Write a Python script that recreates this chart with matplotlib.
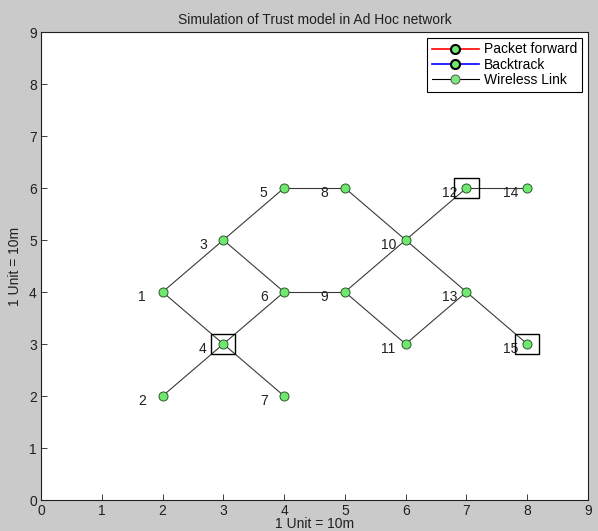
import matplotlib
matplotlib.use("Agg")
import matplotlib.pyplot as plt
from matplotlib.lines import Line2D
from matplotlib.patches import Rectangle

plt.rcParams['font.family'] = ['Liberation Sans', 'DejaVu Sans']

# Node positions (1 unit = 10 m)
node_ids = [1, 2, 3, 4, 5, 6, 7, 8, 9, 10, 11, 12, 13, 14, 15]
node_x = [2, 2, 3, 3, 4, 4, 4, 5, 5, 6, 6, 7, 7, 8, 8]
node_y = [4, 2, 5, 3, 6, 4, 2, 6, 4, 5, 3, 6, 4, 6, 3]

# Wireless links between nodes
links = [(1, 3), (1, 4), (2, 4), (4, 7), (4, 6), (3, 5), (3, 6), (5, 8),
         (6, 9), (8, 10), (9, 10), (9, 11), (10, 12), (10, 13), (11, 13),
         (12, 14), (13, 15)]

# Nodes highlighted with a box
marked_nodes = [4, 12, 15]

legend_labels = ['Packet forward', 'Backtrack', 'Wireless Link']

fig = plt.figure(figsize=(5.98, 5.31), dpi=100, facecolor='#cacaca')
ax = fig.add_axes([41/598, 31/531, 547/598, 468/531])
ax.set_facecolor('white')

pos = {n: (x, y) for n, x, y in zip(node_ids, node_x, node_y)}

node_face = '#6fe86f'
node_edge = '#2a5a2a'
text_col = '#202020'

for a, b in links:
    xa, ya = pos[a]
    xb, yb = pos[b]
    ax.plot([xa, xb], [ya, yb], color='#3a3a3a', lw=0.8, zorder=1)

ax.plot(node_x, node_y, linestyle='none', marker='o', markersize=6.5,
        markerfacecolor=node_face, markeredgecolor=node_edge,
        markeredgewidth=0.7, zorder=3)

for n, x, y in zip(node_ids, node_x, node_y):
    ax.text(x - 0.4, y - 0.1, str(n), fontsize=10, ha='left', va='center',
            color=text_col, zorder=4)

for n in marked_nodes:
    x, y = pos[n]
    ax.add_patch(Rectangle((x - 0.2, y - 0.2), 0.4, 0.4, fill=False,
                           edgecolor='black', lw=1.0, zorder=2))

ax.set_xlim(0, 9)
ax.set_ylim(0, 9)
ax.set_xticks(range(10))
ax.set_yticks(range(10))
ax.tick_params(direction='in', length=4, width=0.6, labelsize=10,
               top=False, right=False, colors=text_col, pad=3)
for s in ax.spines.values():
    s.set_linewidth(0.8)
    s.set_color(text_col)

ax.set_title('Simulation of Trust model in Ad Hoc network', fontsize=10,
             pad=6, color=text_col)
ax.set_xlabel('1 Unit = 10m', fontsize=10, labelpad=-1, color=text_col)
ax.set_ylabel('1 Unit = 10m', fontsize=10, labelpad=5, color=text_col)

handles = [
    Line2D([], [], color='red', lw=1.2, marker='o', markersize=6.5,
           markerfacecolor=node_face, markeredgecolor='black',
           markeredgewidth=1.5),
    Line2D([], [], color='blue', lw=1.2, marker='o', markersize=6.5,
           markerfacecolor=node_face, markeredgecolor='black',
           markeredgewidth=1.5),
    Line2D([], [], color='black', lw=0.8, marker='o', markersize=6.5,
           markerfacecolor='#7ce87c', markeredgecolor='#555555',
           markeredgewidth=0.7),
]
leg = ax.legend(handles, legend_labels, loc='upper right', fontsize=10,
                handlelength=3.4, handletextpad=0.4, borderaxespad=0.4,
                borderpad=0.35, labelspacing=0.1, fancybox=False,
                framealpha=1, edgecolor='black')
leg.get_frame().set_linewidth(0.8)

fig.savefig('out.png', dpi=100, facecolor=fig.get_facecolor())
